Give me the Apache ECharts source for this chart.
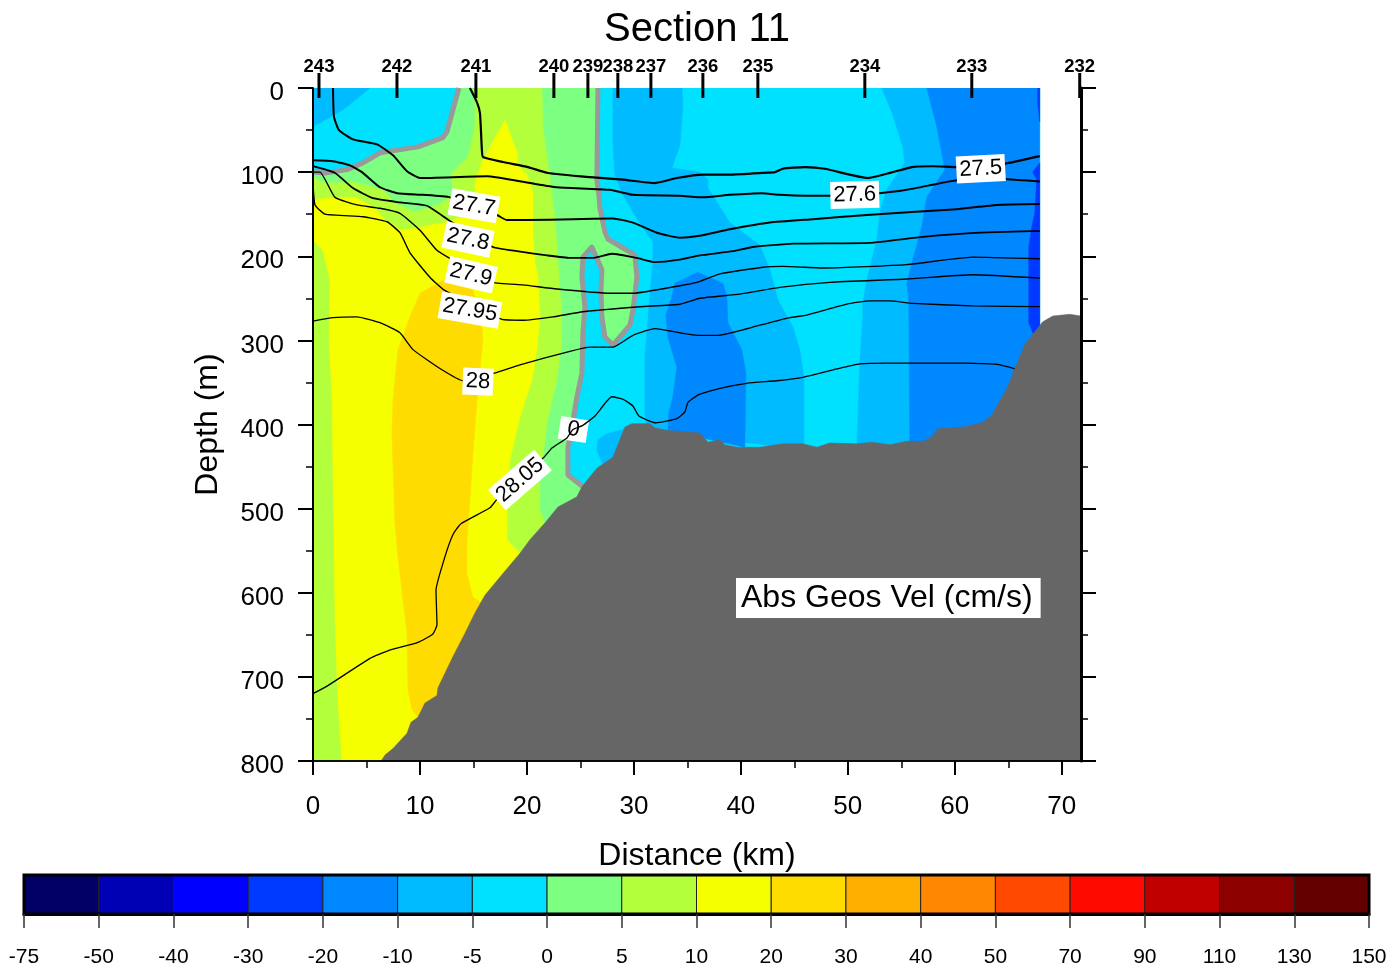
<!DOCTYPE html>
<html><head><meta charset="utf-8">
<style>html,body{margin:0;padding:0;background:#fff}#c{width:1397px;height:971px}</style>
<script src="https://cdn.jsdelivr.net/npm/echarts@6/dist/echarts.min.js"></script>
</head><body><div id="c"></div>
<script>
// ---- values: [distance km, depth m] ----
const stationNames = ['243','242','241','240','239','238','237','236','235','234','233','232'];
const stationKm = [0.56,7.85,15.23,22.52,25.7,28.5,31.59,36.45,41.59,51.59,61.59,71.68];
const colorbarLabels = ['-75','-50','-40','-30','-20','-10','-5','0','5','10','20','30','40','50','70','90','110','130','150'];
const xMajor = [0,10,20,30,40,50,60,70];
const xMinor = [5,15,25,35,45,55,65];

const zeroLeft = [[13.64,0],[12.52,52],[12.15,59],[9.81,70],[6.26,77],[4.67,89],[3.18,97],[1.12,101],[0,100]];
const zeroRight = [[26.64,0],[26.54,109],[26.73,127],[26.82,143],[27.29,171],[27.57,179.5],[30.09,198.5],[30.28,225],[29.91,264],[29.63,282],[28.04,305.5],[27.29,296],[27.01,272],[26.92,240],[27.01,216],[26.07,189],[25.23,201],[25.14,225],[25.42,260],[25.23,291],[25.14,339],[24.67,367],[24.21,403],[23.83,427],[23.83,460],[25.23,474]];

const bandMinus5 = [[0,0],[67.94,0],[67.94,800],[0,800]];
const bandMinus10TopLeft = [[0,0],[5.33,0],[2.8,26],[0,46]];
const bandMinus10Centre = [[28.04,0],[34.49,0],[34.58,20],[34.3,68],[33.55,95],[36.17,100],[36.92,109],[36.92,119],[38.97,160],[41.78,187],[42.71,216],[43.46,252],[44.86,284],[45.51,311],[45.89,344],[45.89,430],[31.21,407],[31.03,386],[31.03,320],[31.31,276],[31.5,244],[31.78,208],[31.78,183],[30.28,155],[28.97,127],[28.22,103],[28.04,64]];
const bandMinus10Right = [[53.18,0],[57.38,0],[58.32,46],[59.07,97],[57.38,130],[56.92,165],[55.98,208],[55.51,232],[55.7,252],[55.79,430],[50.84,430],[51.12,327],[51.4,272],[51.4,256],[51.78,228],[52.71,181],[52.99,149],[53.64,121],[55.33,89],[55.14,70],[54.21,32]];
const bandMinus10Slope = [[26.64,418],[27.48,411],[29.63,404],[29.63,442],[27.1,448],[26.54,430]];
const bandMinus20Centre = [[35.98,219],[33.83,232],[33.55,248],[32.99,270],[33.18,296],[34.02,332],[33.64,367],[33.27,386],[33.18,407],[40.37,427],[40.47,339],[40.09,311],[38.79,279],[38.69,248],[38.32,232]];
const bandMinus20Right = [[57.38,0],[67.94,0],[67.94,400],[55.79,430],[55.7,252],[55.51,232],[55.98,208],[56.92,165],[57.38,130],[59.07,97],[58.32,46]];
const bandMinus30Top = [[67.76,0],[67.94,0],[67.94,40],[67.76,18]];
const bandMinus30Edge = [[67.94,89],[67.29,100],[67.66,109],[67.48,149],[67.2,165],[66.92,189],[66.92,279],[67.29,291],[67.94,300]];
const bandPlus0 = zeroLeft.concat([[0,800],[25.23,800]], zeroRight.slice().reverse());
const bandPlus5 = [[15.14,0],[21.4,0],[21.5,48],[22.15,107],[22.62,155],[22.8,187],[22.9,208],[23.08,240],[23.27,272],[23.18,308],[22.8,347],[21.87,398],[21.5,439],[21.21,466],[21.21,502],[21.68,517],[22.15,800],[0,800],[0,106],[1.12,113],[3.93,112],[6.54,121],[7.66,137],[9.53,147],[10.75,143],[11.87,138],[12.99,127],[13.08,118],[12.9,106],[12.99,100],[14.49,82],[14.95,56],[15.14,44]];
const bandPlus10 = [[0,133],[1.31,131],[3.93,130],[5.61,141],[6.73,157],[8.32,169],[9.81,166],[12.62,159],[14.21,152],[15.14,127],[15.14,112],[15.79,88],[16.82,64],[17.94,38],[19.07,76],[19.16,92],[20,103],[20.56,124],[20.56,175],[20.75,207],[21.03,225],[21.21,272],[20.93,311],[20.47,347],[19.35,391],[18.41,442],[18.13,505],[18.13,537],[19.35,553],[19.35,800],[2.71,800],[2.34,731],[2.06,632],[1.87,458],[1.78,367],[1.5,300],[1.59,228],[0.93,193],[0,181]];
const bandPlus20 = [[12.24,228],[10,244],[9.07,272],[7.94,311],[7.48,371],[7.38,410],[7.66,517],[7.94,557.5],[8.79,648],[8.88,716],[9.25,739],[9.81,748],[11.87,763],[17.48,668],[15.79,612],[14.95,605],[14.39,577],[14.39,541],[14.67,490],[14.95,434],[15.42,359],[15.89,300],[15.79,284],[14.95,240]];
const bathymetry = [[6.36,800],[6.73,793],[7.48,785],[8.79,767],[9.16,754],[9.81,748],[10.47,731],[11.59,722],[11.68,713],[13.08,676],[14.21,648],[15.14,624],[16.07,603],[17.76,577],[19.35,553],[20.28,537],[21.68,517],[22.9,498],[24.67,486],[25.14,474],[26.54,452],[28.04,439],[28.5,424],[29.16,403],[29.81,399],[31.5,399],[31.96,404],[33.18,407],[36.17,410],[36.92,421],[38.04,418],[38.5,424],[39.72,427],[41.78,427],[43.93,423],[45.79,423],[47.1,427],[48.32,422],[50.84,423],[52.24,421],[53.93,424],[55.51,420],[57.01,420],[57.85,415],[58.41,405],[60.75,403],[62.52,398],[63.46,389],[64.95,355],[66.54,305],[68.22,278],[69.16,271],[70.75,269],[71.8,271],[71.8,800]];

const sigma275 = [[14.67,0],[15.33,17],[15.61,30],[15.79,74],[15.89,82],[17.76,88],[20.09,94],[21.96,101],[25.89,106],[28.97,109],[31.96,113],[34.02,107],[36.45,103],[38.97,103],[42.06,101],[43.18,100],[43.93,96],[45.98,94],[47.85,96],[51.87,107],[55.98,94],[57.94,93],[60.19,94],[64.67,90],[67.94,81]];
const sigma276 = [[1.87,0],[1.96,34],[2.43,50],[3.74,61],[5.98,67],[7.48,80],[8.79,99],[10,107],[16.26,105],[20.28,113],[22.8,118],[27.76,121],[29.91,127],[34.3,128],[36.45,130],[38.97,127],[41.96,125],[43.64,127],[46.17,128],[48.32,128],[52.99,125],[55.51,121],[57.94,115],[59.53,111],[62.34,107],[67.94,111]];
const sigma277 = [[0,86],[1.87,87],[3.46,92],[4.58,100],[6.26,118],[7.85,125],[10.28,127],[12.8,130],[17.2,151],[18.13,157],[20,157],[24.3,156],[28.04,155],[29.91,160],[32.15,172],[34.3,178],[35.98,176],[38.97,168],[42.71,160],[46.73,156],[51.78,151],[60.19,144],[63.93,139],[67.94,138]];
const sigma278 = [[0,93],[2.06,101],[3.74,119],[5.61,131],[8.13,136],[10.65,140],[12.8,158],[16.82,189],[19.07,194],[21.87,199],[24.02,202],[26.17,202],[27.94,197],[30.28,202],[31.96,207],[34.3,204],[36.17,199],[39.25,194],[41.12,189],[44.86,185],[52.06,184],[57.01,177],[62.34,172],[67.94,170]];
const sigma279 = [[0,100],[0.65,100],[2.06,130],[4.11,139],[6.26,143],[8.13,149],[10,169],[11.59,193],[12.71,202],[16.82,231],[19.63,234],[22.8,239],[27.76,244],[29.91,244],[34.3,235],[35.89,231],[38.04,221],[42.06,213],[43.93,212],[48.04,214],[55.51,210],[59.25,204],[61.68,201],[67.94,203]];
const sigma2795 = [[0,113],[0.19,139],[1.12,150],[4.67,153],[6.92,159],[8.13,172],[9.07,196],[10.93,225],[12.24,240],[17.66,275],[19.63,276],[22.43,272],[25.23,266],[30.56,260],[34.3,257],[36.17,250],[39.91,245],[43.64,237],[48.32,231],[55.51,227],[61.68,222],[67.94,226]];
const sigma28 = [[0,277],[1.87,273],[4.11,272],[6.26,279],[8.13,291],[9.35,311],[12.06,335],[14.02,348],[16.92,339],[19.35,329],[24.02,313],[25.89,308],[28.04,308],[29.91,294],[31.96,286],[34.3,291],[35.98,294],[37.85,294],[41.78,282],[44.58,273],[46.17,270],[49.91,257],[52.06,253],[53.93,253],[56.07,256],[61.68,259],[67.94,260]];
const sigma2805 = [[0,720],[1.31,711],[5.33,678],[7.01,669],[9.81,659],[11.21,649],[11.59,638],[11.5,597],[12.34,557],[13.08,531],[13.83,518],[16.54,499],[17.2,489],[21.59,439],[22.34,428],[23.74,416],[24.3,406],[25.23,401],[26.36,390],[27.94,367],[28.97,370],[29.91,378],[30.47,390],[32.06,398],[34.02,393],[34.77,385],[35.05,374],[35.98,365],[38.04,357],[40.56,351],[43.36,348],[45.79,344],[48.97,334],[51.12,328],[53.64,327],[61.12,327],[64.21,329],[65.61,334]];

const contourLabelText = ['27.7','27.8','27.9','27.95','28','28.05','27.6','27.5'];
const contourLabelKm = [15.05,14.49,14.77,14.67,15.42,19.35,50.65,62.43];
const contourLabelDepth = [140,180,222,264,349,466,127,96];
const contourLabelAngle = [-10,-12,-13,-10,-2.5,41,1.5,3];
const zeroLabelText = ['0'];
const zeroLabelKm = [24.35];
const zeroLabelDepth = [406];
const zeroLabelAngle = [-9];

// ---- styling, built from the arrays above ----
const FONT = '"Liberation Sans", Arial, sans-serif';
const colorbarColors = ['#000066','#0000b4','#0000ff','#0039ff','#0088ff','#00bbff','#00e0ff','#7dff82','#b4ff3c','#f6ff00','#ffdc00','#ffaf00','#ff8800','#ff4a00','#ff0a00','#c00000','#8c0000','#640000'];
const CY=colorbarColors;
const fillBands = [
 [bandMinus5,CY[6]],[bandMinus10TopLeft,CY[5]],[bandMinus10Centre,CY[5]],[bandMinus10Right,CY[5]],[bandMinus10Slope,CY[5]],
 [bandMinus20Centre,CY[4]],[bandMinus20Right,CY[4]],[bandMinus30Top,CY[3]],[bandMinus30Edge,CY[3]],
 [bandPlus0,CY[7]],[bandPlus5,CY[8]],[bandPlus10,CY[9]],[bandPlus20,CY[10]]
];
const polygonSeries = (list,z)=>({
  type:'custom',coordinateSystem:'cartesian2d',xAxisIndex:0,yAxisIndex:0,silent:true,clip:true,z,animation:false,
  data:list.map((_,i)=>[i]),encode:{x:0},
  renderItem:(p,api)=>({type:'polygon',shape:{points:list[p.dataIndex][0].map(q=>api.coord(q))},style:{fill:list[p.dataIndex][1],stroke:list[p.dataIndex][1],lineWidth:0.5}})
});
const lineSeries = (name,data,color,width,z,smooth)=>({
  type:'line',name,coordinateSystem:'cartesian2d',xAxisIndex:0,yAxisIndex:0,data,symbol:'none',silent:true,clip:true,z,animation:false,smooth:smooth||false,
  lineStyle:{color,width,join:'round'}
});
const labelSeries = (texts,kms,depths,angles,z,padding)=>({
  type:'custom',coordinateSystem:'cartesian2d',xAxisIndex:0,yAxisIndex:0,silent:true,clip:false,z,
  data:texts.map((_,i)=>[kms[i],depths[i]]),
  renderItem:(p,api)=>{const c=api.coord([api.value(0),api.value(1)]);
    return {type:'text',x:c[0],y:c[1],rotation:angles[p.dataIndex]*Math.PI/180,
      style:{text:texts[p.dataIndex],font:'22px '+FONT,fill:'#000',align:'center',verticalAlign:'middle',backgroundColor:'#fff',padding}};}
});

const option = {
  animation:false,
  textStyle:{fontFamily:FONT,color:'#000'},
  grid:[{left:313,top:88,width:768,height:673},{left:24,top:875,width:1345,height:39}],
  xAxis:[
   {gridIndex:0,type:'value',min:0,max:71.8,position:'bottom',z:10,name:'Distance (km)',nameLocation:'middle',nameGap:79,
    nameTextStyle:{fontFamily:FONT,fontSize:32,color:'#000'},splitLine:{show:false},
    axisLine:{onZero:false,lineStyle:{color:'#000',width:1.5}},
    axisTick:{length:14,customValues:xMajor,lineStyle:{color:'#000',width:2}},
    axisLabel:{customValues:xMajor,margin:33,fontFamily:FONT,fontSize:26,color:'#000'}},
   {gridIndex:0,type:'value',min:0,max:71.8,position:'bottom',z:10,splitLine:{show:false},
    axisLine:{onZero:false,lineStyle:{color:'#000',width:1.5}},
    axisTick:{length:7,customValues:xMinor,lineStyle:{color:'#000',width:1.5}},
    axisLabel:{show:false}},
   {gridIndex:1,type:'value',min:0,max:18,interval:1,position:'bottom',z:10,splitLine:{show:false},
    axisLine:{onZero:false,lineStyle:{color:'#000',width:3}},
    axisTick:{length:14,lineStyle:{color:'#333',width:1.5}},
    axisLabel:{margin:33,fontFamily:FONT,fontSize:21,color:'#000',hideOverlap:false,showMinLabel:true,showMaxLabel:true,formatter:v=>colorbarLabels[v]}}
  ],
  yAxis:[
   {gridIndex:0,type:'value',min:0,max:800,interval:100,inverse:true,position:'left',z:10,name:'Depth (m)',nameLocation:'middle',nameGap:89,nameRotate:90,
    nameTextStyle:{fontFamily:FONT,fontSize:32,color:'#000'},splitLine:{show:false},
    axisLine:{onZero:false,lineStyle:{color:'#000',width:2}},
    axisTick:{length:15,lineStyle:{color:'#000',width:2}},
    minorTick:{show:true,splitNumber:2,length:7,lineStyle:{color:'#000',width:1.5}},
    axisLabel:{margin:29,fontFamily:FONT,fontSize:26,color:'#000',showMinLabel:true,showMaxLabel:true,verticalAlign:'top',lineHeight:10}},
   {gridIndex:0,type:'value',min:0,max:800,interval:100,inverse:true,position:'right',z:10,splitLine:{show:false},
    axisLine:{onZero:false,lineStyle:{color:'#000',width:3}},
    axisTick:{length:15,lineStyle:{color:'#000',width:2}},
    minorTick:{show:true,splitNumber:2,length:7,lineStyle:{color:'#000',width:1.5}},
    axisLabel:{show:false}},
   {gridIndex:1,type:'value',min:0,max:1,show:false}
  ],
  graphic:[
   {type:'text',z:50,x:697,y:30,style:{text:'Section 11',font:'40px '+FONT,fill:'#000',align:'center',verticalAlign:'middle'}},
   {type:'text',z:50,x:736,y:578,style:{text:'Abs Geos Vel (cm/s)',font:'32px '+FONT,fill:'#000',backgroundColor:'#fff',padding:[4,8,4,5]}}
  ],
  series:[
    polygonSeries(fillBands,2),
    lineSeries('zero-left',zeroLeft,'#999999',5,3),
    lineSeries('zero-right',zeroRight,'#999999',5,3),
    labelSeries(zeroLabelText,zeroLabelKm,zeroLabelDepth,zeroLabelAngle,4,[1,8,0,8]),
    lineSeries('27.5',sigma275,'#000',2.2,5,0.15),
    lineSeries('27.6',sigma276,'#000',2,5,0.15),
    lineSeries('27.7',sigma277,'#000',2,5,0.15),
    lineSeries('27.8',sigma278,'#000',1.8,5,0.15),
    lineSeries('27.9',sigma279,'#000',1.4,5,0.15),
    lineSeries('27.95',sigma2795,'#000',1.4,5,0.15),
    lineSeries('28',sigma28,'#000',1.3,5,0.15),
    lineSeries('28.05',sigma2805,'#000',1.3,5,0.15),
    polygonSeries([[bathymetry,'#666666']],6),
    labelSeries(contourLabelText,contourLabelKm,contourLabelDepth,contourLabelAngle,7,[3,3,2,3]),
    {type:'custom',coordinateSystem:'cartesian2d',xAxisIndex:0,yAxisIndex:0,silent:true,clip:false,z:12,
     data:stationKm.map(k=>[k,0]),
     renderItem:(p,api)=>{const c=api.coord([api.value(0),api.value(1)]);
       return {type:'group',children:[
        {type:'line',shape:{x1:c[0],y1:c[1]-15,x2:c[0],y2:c[1]+10},style:{stroke:'#000',lineWidth:3}},
        {type:'text',x:c[0],y:c[1]-21,style:{text:stationNames[p.dataIndex],font:'bold 18.5px '+FONT,fill:'#000',align:'center',verticalAlign:'middle'}}]};}},
    {type:'custom',coordinateSystem:'cartesian2d',xAxisIndex:2,yAxisIndex:2,silent:true,clip:false,z:3,
     data:colorbarColors.map((_,i)=>[i,0]),
     renderItem:(p,api)=>{const a=api.coord([p.dataIndex,1]),b=api.coord([p.dataIndex+1,0]);
       return {type:'rect',shape:{x:a[0],y:a[1],width:b[0]-a[0],height:b[1]-a[1]},style:{fill:colorbarColors[p.dataIndex],stroke:'#222',lineWidth:1}};}},
    {type:'custom',coordinateSystem:'cartesian2d',xAxisIndex:2,yAxisIndex:2,silent:true,clip:false,z:4,
     data:[[0,0]],
     renderItem:(p,api)=>{const a=api.coord([0,1]),b=api.coord([18,0]);
       return {type:'rect',shape:{x:a[0],y:a[1],width:b[0]-a[0],height:b[1]-a[1]},style:{fill:'none',stroke:'#000',lineWidth:3}};}}
  ]
};
echarts.init(document.getElementById('c'),null,{renderer:'canvas'}).setOption(option);
</script></body></html>
